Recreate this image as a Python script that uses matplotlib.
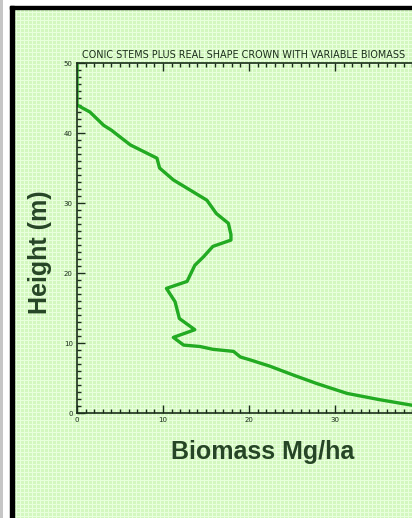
import numpy as np
import matplotlib
matplotlib.use("Agg")
import matplotlib.pyplot as plt
from matplotlib.patches import Rectangle

# biomass profile (height in m, biomass in Mg/ha)
height = [50, 44, 43, 41.1, 40.4, 38.3, 36.4, 35, 33.3, 30.4, 28.5, 27.1, 25.5,
          24.7, 23.8, 22.3, 21.1, 18.8, 17.8, 15.9, 14, 13.5, 11.9, 10.8, 9.7,
          9.5, 9.1, 8.8, 8.0, 7.6, 6.7, 5.4, 4.2, 2.8, 1.9, 1.1, 0.5]
biomass = [0, 0, 1.5, 3.1, 4.0, 6.2, 9.3, 9.6, 11.2, 15.1, 16.2, 17.6, 17.9,
           17.9, 15.8, 14.7, 13.7, 12.8, 10.4, 11.4, 11.8, 11.9, 13.7, 11.2, 12.4,
           14.3, 15.8, 18.2, 19.0, 20.1, 22.4, 25.2, 27.9, 31.4, 35.2, 39.0, 44]

x_ticks = [0, 10, 20, 30, 40, 50]
x_labels = ["0", "10", "20", "30", "", ""]
y_ticks = [0, 10, 20, 30, 40, 50]

W, H = 412, 518
fig = plt.figure(figsize=(W / 100, H / 100), dpi=100, facecolor="white")

# green paper background with a fine grid
bg = np.ones((H, W, 3))
bg[:, :] = (0.83, 0.97, 0.75)
bg[::4, :] = (0.91, 1.0, 0.87)
bg[:, ::4] = (0.91, 1.0, 0.87)
bg[:9, :] = 1.0
bg[:, :13] = 1.0
bg[:, :3] = (0.78, 0.78, 0.78)
fig.figimage(bg, xo=0, yo=0, origin="upper", zorder=-2)

# black frame (top and left)
fig.add_artist(Rectangle((10 / W, 0), 4 / W, 1 - 6 / H, transform=fig.transFigure,
                         color="black", zorder=-1))
fig.add_artist(Rectangle((10 / W, 1 - 9 / H), 1, 3 / H, transform=fig.transFigure,
                         color="black", zorder=-1))

ax = fig.add_axes([77 / W, (H - 413) / H, 430 / W, 350 / H])
ax.set_facecolor("none")
ax.plot(biomass, height, color="#22aa22", lw=2.4, solid_capstyle="round")

ax.set_xlim(0, 50)
ax.set_ylim(0, 50)
ax.set_xticks(x_ticks)
ax.set_xticklabels(x_labels)
ax.set_yticks(y_ticks)
ax.set_xticks(np.arange(0, 51, 1), minor=True)
ax.set_yticks(np.arange(0, 51, 1), minor=True)
ax.tick_params(which="both", direction="in", top=True, right=True, colors="#1a2e1a",
               width=1.0, labelsize=5)
ax.tick_params(which="major", length=6, pad=3)
ax.tick_params(which="minor", length=3)
for s in ax.spines.values():
    s.set_color("#1a2e1a")
    s.set_linewidth(1.2)

fig.text(82 / W, 1 - 55 / H, "CONIC STEMS PLUS REAL SHAPE CROWN WITH VARIABLE BIOMASS",
         ha="left", va="center", fontsize=6.9, color="#1a2e1a")
fig.text(263 / W, 1 - 452 / H, "Biomass Mg/ha", ha="center", va="center",
         fontsize=18, fontweight="bold", family="Liberation Sans", color="#264526")
fig.text(40 / W, 1 - 252 / H, "Height (m)", ha="center", va="center", rotation=90,
         fontsize=18, fontweight="bold", family="Liberation Sans", color="#264526")

fig.savefig("out.png", dpi=100)
